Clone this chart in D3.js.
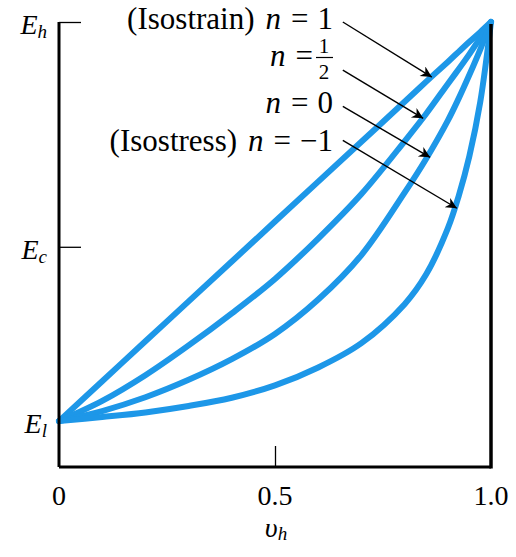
<!DOCTYPE html>
<html>
<head>
<meta charset="utf-8">
<script src="https://cdn.jsdelivr.net/npm/d3@7"></script>
<style>
  html, body { margin: 0; padding: 0; background: #fff; }
</style>
</head>
<body>
<div class="chart"></div>
<script>
// 체적분율 v_h
const vh = [0, 0.1, 0.2, 0.3, 0.4, 0.5, 0.6, 0.7, 0.8, 0.85, 0.9, 0.925, 0.95, 0.975, 1.0];
// 각 n 값에 대한 복합재 탄성률 (E_l = 1 기준, 그림에서 읽은 값)
const eIsostrain = [1.00, 1.87, 2.74, 3.61, 4.48, 5.35, 6.22, 7.09, 7.96, 8.40, 8.83, 9.05, 9.27, 9.48, 9.70];
const eHalf      = [1.00, 1.44, 2.00, 2.65, 3.35, 4.10, 4.98, 5.95, 7.10, 7.70, 8.35, 8.67, 9.00, 9.35, 9.70];
const eZero      = [1.00, 1.22, 1.52, 1.90, 2.35, 2.90, 3.65, 4.62, 5.98, 6.72, 7.55, 8.03, 8.55, 9.10, 9.70];
const eIsostress = [1.00, 1.09, 1.19, 1.33, 1.51, 1.78, 2.17, 2.70, 3.55, 4.20, 5.20, 5.90, 6.78, 7.95, 9.70];

// 눈금
const xTicks = [0, 0.5, 1.0];
const xTickLabels = ['0', '0.5', '1.0'];
const yTicks = [9.7, 4.8, 1.0];
const yTickSubs = ['h', 'c', 'l'];

// 화살표 (꼬리 v,E -> 머리 v,E)
const arrowTail = [[0.657, 9.70], [0.657, 8.65], [0.657, 7.86], [0.657, 7.12]];
const arrowHead = [[0.863, 8.50], [0.843, 7.60], [0.859, 6.75], [0.921, 5.64]];

const W = 516, H = 557;
const margin = {top: 22, right: 25, bottom: 90, left: 59};
const blue = '#1d97e8';
const SERIF = "'Liberation Serif', serif";

const x = d3.scaleLinear([0, 1], [margin.left, W - margin.right]);
const y = d3.scaleLinear([0, 9.7], [H - margin.bottom, margin.top]);

const svg = d3.select('.chart').append('svg')
  .attr('width', W).attr('height', H)
  .style('font-family', SERIF);

svg.append('defs').append('marker')
  .attr('id', 'head')
  .attr('viewBox', '0 0 10 10')
  .attr('refX', 10).attr('refY', 5)
  .attr('markerUnits', 'userSpaceOnUse')
  .attr('markerWidth', 18).attr('markerHeight', 11)
  .attr('orient', 'auto')
  .append('path').attr('d', 'M0,0 L10,5 L0,10 L3,5 Z').attr('fill', '#000');

/******************** 곡선 ********************/
const series = [eIsostrain, eHalf, eZero, eIsostress];
const line = d3.line()
  .x((d, i) => x(vh[i]))
  .y(d => y(d))
  .curve(d3.curveCatmullRom.alpha(0.5));

svg.append('g')
  .selectAll('path')
  .data(series)
  .join('path')
    .attr('d', line)
    .attr('fill', 'none')
    .attr('stroke', blue)
    .attr('stroke-width', 6)
    .attr('stroke-linejoin', 'round')
    .attr('stroke-linecap', 'round');

/******************** 축 ********************/
const xAxis = d3.axisBottom(x).tickValues(xTicks).tickSize(-21).tickFormat('');
svg.append('g')
  .attr('transform', `translate(0, ${y(0)})`)
  .call(xAxis)
  .call(g => g.select('.domain').attr('stroke-width', 3).attr('d', `M${x(0)},0H${x(1)}`))
  .call(g => g.selectAll('.tick line').attr('stroke-width', 1.3)
    .attr('opacity', d => d === 0.5 ? 1 : 0));

const yAxis = d3.axisLeft(y).tickValues(yTicks).tickSize(-22).tickFormat('');
svg.append('g')
  .attr('transform', `translate(${x(0)}, 0)`)
  .call(yAxis)
  .call(g => g.select('.domain').attr('stroke-width', 3).attr('d', `M0,${y(9.7)}V${y(0)}`))
  .call(g => g.selectAll('.tick line').attr('stroke-width', 1.3)
    .attr('opacity', d => d === 1.0 ? 0 : 1));

// 오른쪽 경계선
svg.append('line')
  .attr('x1', x(1)).attr('x2', x(1))
  .attr('y1', y(9.7) + 2).attr('y2', y(0) + 1.5)
  .attr('stroke', '#000').attr('stroke-width', 3.5);

// x축 눈금 레이블
svg.append('g')
  .selectAll('text')
  .data(xTicks)
  .join('text')
    .attr('x', d => x(d))
    .attr('y', 505)
    .attr('text-anchor', 'middle')
    .style('font-family', SERIF)
    .attr('font-size', 28)
    .text((d, i) => xTickLabels[i]);

// x축 제목
const xt = svg.append('text')
  .attr('x', 276).attr('y', 537)
  .attr('text-anchor', 'middle')
  .style('font-family', SERIF)
  .attr('font-size', 28);
xt.append('tspan').attr('font-style', 'italic').text('υ');
xt.append('tspan').attr('font-style', 'italic').attr('font-size', 19).attr('dy', 3).text('h');

// y축 눈금 레이블
yTicks.forEach((d, i) => {
  const t = svg.append('text')
    .attr('x', 47).attr('y', y(d) + 12)
    .attr('text-anchor', 'end')
    .style('font-family', SERIF)
    .attr('font-size', 28)
    .attr('font-style', 'italic');
  t.append('tspan').text('E');
  t.append('tspan').attr('font-size', 19).attr('dy', 4).text(yTickSubs[i]);
});

/******************** 화살표 ********************/
svg.append('g')
  .selectAll('line')
  .data(arrowTail)
  .join('line')
    .attr('x1', d => x(d[0])).attr('y1', d => y(d[1]))
    .attr('x2', (d, i) => x(arrowHead[i][0])).attr('y2', (d, i) => y(arrowHead[i][1]))
    .attr('stroke', '#000')
    .attr('stroke-width', 1.4)
    .attr('marker-end', 'url(#head)');

/******************** 주석 ********************/
const fs = 31;
function label(yPos, prefix, rhs) {
  const t = svg.append('text')
    .attr('x', 333).attr('y', yPos)
    .attr('text-anchor', 'end')
    .style('font-family', SERIF)
    .attr('font-size', fs);
  if (prefix) t.append('tspan').text(prefix);
  t.append('tspan').attr('font-style', 'italic').attr('dx', prefix ? 11 : 0).text('n');
  t.append('tspan').attr('dx', 10).text('=');
  t.append('tspan').attr('dx', 9).text(rhs);
}
label(29, '(Isostrain)', '1');
label(113, null, '0');
label(151, '(Isostress)', '\u22121');

// n = 1/2 (분수)
const th = svg.append('text')
  .attr('x', 313).attr('y', 66)
  .attr('text-anchor', 'end')
  .style('font-family', SERIF)
  .attr('font-size', fs);
th.append('tspan').attr('font-style', 'italic').text('n');
th.append('tspan').attr('dx', 10).text('=');
svg.append('text').attr('x', 324).attr('y', 53).attr('text-anchor', 'middle')
  .style('font-family', SERIF).attr('font-size', 21).text('1');
svg.append('line').attr('x1', 316).attr('x2', 333).attr('y1', 57.5).attr('y2', 57.5)
  .attr('stroke', '#000').attr('stroke-width', 1.2);
svg.append('text').attr('x', 324).attr('y', 79).attr('text-anchor', 'middle')
  .style('font-family', SERIF).attr('font-size', 21).text('2');
</script>
</body>
</html>
